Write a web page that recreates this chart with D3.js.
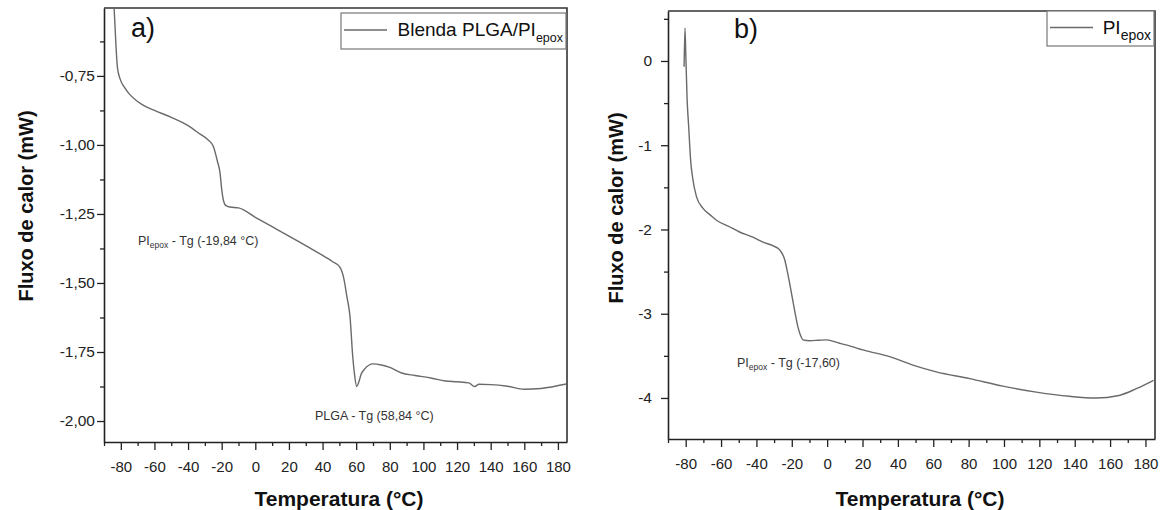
<!DOCTYPE html>
<html>
<head>
<meta charset="utf-8">
<script src="https://cdn.jsdelivr.net/npm/d3@7"></script>
<style>
  body { margin: 0; background: #fff; }
  text { font-family: "Liberation Sans", Arial, sans-serif; }
</style>
</head>
<body>
<div class="d3-chart"></div>
<script>
const width = 1173;
const height = 510;

// a) Blenda PLGA/PI_epox
const tempA = [-84.2, -83.6, -82.8, -82, -80.5, -78, -75, -71, -67, -60, -50, -40, -33, -28, -25, -22.5, -21, -20, -19, -17.5, -15, -10, 0, 10, 20, 30, 40, 46, 50, 52.5, 54.5, 56.3, 58, 59, 60.3, 61.5, 63, 65, 70, 75, 80, 87, 95, 105, 113, 120, 127, 130.5, 133, 140, 150, 160, 170, 185];
const fluxA = [-0.48, -0.55, -0.65, -0.72, -0.76, -0.79, -0.815, -0.838, -0.855, -0.875, -0.9, -0.93, -0.96, -0.982, -1.005, -1.06, -1.1, -1.16, -1.2, -1.22, -1.225, -1.228, -1.262, -1.296, -1.33, -1.365, -1.4, -1.423, -1.44, -1.48, -1.55, -1.62, -1.77, -1.83, -1.875, -1.86, -1.83, -1.812, -1.793, -1.797, -1.806, -1.826, -1.835, -1.845, -1.855, -1.858, -1.862, -1.875, -1.867, -1.868, -1.874, -1.885, -1.882, -1.866];

// b) PI_epox
const tempB = [-80.9, -80.4, -79.9, -79.2, -78.3, -77.2, -75.9, -73.9, -70.2, -66, -62.6, -56, -49.5, -42, -36.3, -30, -27, -24, -22.5, -21.2, -19.8, -18.4, -16.5, -15, -13.7, -9.9, -5, -0.5, 7, 14, 20.2, 24, 35.3, 48.5, 61.7, 80.6, 99.4, 118.3, 137, 152, 165, 174.8, 184.6];
const fluxB = [-0.07, 0.39, 0.05, -0.45, -0.78, -1.18, -1.41, -1.61, -1.75, -1.83, -1.89, -1.96, -2.03, -2.09, -2.15, -2.2, -2.24, -2.36, -2.5, -2.64, -2.8, -2.96, -3.16, -3.26, -3.31, -3.32, -3.315, -3.31, -3.35, -3.39, -3.43, -3.45, -3.51, -3.61, -3.69, -3.77, -3.86, -3.93, -3.98, -4.0, -3.97, -3.89, -3.79];

const xTicks = d3.range(-80, 181, 20);
const yTicksA = [-0.75, -1.0, -1.25, -1.5, -1.75, -2.0];
const yTicksB = [0, -1, -2, -3, -4];

// plain hyphen for negatives, comma decimals
const fmtComma = d => d.toFixed(2).replace(".", ",");
const fmtInt = d => String(d);

const svg = d3.select(".d3-chart")
  .append("svg")
  .attr("width", width)
  .attr("height", height);

const panels = [
  {
    id: "a", temp: tempA, flux: fluxA,
    x0: 104, x1: 567, y0: 8, y1: 442,
    yDomain: [-2.076, -0.504], yTicks: yTicksA, yMinorStep: 0.125, yFmt: fmtComma, yLabelGap: 9,
    label: {text: "a)", x: 131, y: 37},
    yTitle: {x: 33, y: 206}, xTitle: {x: 339, y: 506},
    legend: {x: 341, y: 13, w: 225, h: 36, main: "Blenda PLGA/PI", sub: "epox", mainSize: 19, subSize: 12.5},
    notes: [
      {x: 138, y: 245, main: "PI", sub: "epox", rest: " - Tg (-19,84 °C)"},
      {x: 315, y: 420, main: "PLGA - Tg (58,84 °C)"}
    ]
  },
  {
    id: "b", temp: tempB, flux: fluxB,
    x0: 668, x1: 1155, y0: 11, y1: 439,
    yDomain: [-4.487, 0.593], yTicks: yTicksB, yMinorStep: 0.5, yFmt: fmtInt, yLabelGap: 16,
    label: {text: "b)", x: 734, y: 38},
    yTitle: {x: 623, y: 208}, xTitle: {x: 920, y: 506},
    legend: {x: 1047, y: 11, w: 107, h: 35, main: "PI", sub: "epox", mainSize: 19, subSize: 14},
    notes: [
      {x: 737, y: 367, main: "PI", sub: "epox", rest: " - Tg (-17,60)"}
    ]
  }
];

const lineColor = "#6a6a6a";
const axisColor = "#222";

panels.forEach(p => {
  const x = d3.scaleLinear().domain([-90, 185.4]).range([p.x0, p.x1]);
  const y = d3.scaleLinear().domain(p.yDomain).range([p.y1, p.y0]);
  const g = svg.append("g");

  g.append("clipPath").attr("id", `clip-${p.id}`)
    .append("rect")
    .attr("x", p.x0).attr("y", p.y0)
    .attr("width", p.x1 - p.x0).attr("height", p.y1 - p.y0);

  // x axis (major + minor)
  const xMinor = d3.range(-90, 186, 10).filter(v => v % 20 !== 0);
  g.append("g")
    .attr("transform", `translate(0,${p.y1})`)
    .call(d3.axisBottom(x).tickValues(xMinor).tickSize(4).tickFormat(""))
    .call(s => s.select(".domain").remove());
  const xAxis = g.append("g")
    .attr("transform", `translate(0,${p.y1})`)
    .call(d3.axisBottom(x).tickValues(xTicks).tickSize(8).tickPadding(11).tickSizeOuter(0).tickFormat(fmtInt));
  xAxis.selectAll("text").attr("font-size", 15).attr("fill", "#222");

  // y axis
  const ext = d3.extent(p.yDomain);
  const yMinor = [];
  for (let v = Math.ceil(ext[0] / p.yMinorStep) * p.yMinorStep; v <= ext[1]; v += p.yMinorStep) {
    if (!p.yTicks.some(t => Math.abs(t - v) < 1e-6)) yMinor.push(v);
  }
  g.append("g")
    .attr("transform", `translate(${p.x0},0)`)
    .call(d3.axisLeft(y).tickValues(yMinor).tickSize(4).tickFormat(""))
    .call(s => s.select(".domain").remove());
  const yAxis = g.append("g")
    .attr("transform", `translate(${p.x0},0)`)
    .call(d3.axisLeft(y).tickValues(p.yTicks).tickSize(7).tickPadding(p.yLabelGap - 7).tickSizeOuter(0).tickFormat(p.yFmt));
  yAxis.selectAll("text").attr("font-size", 15.5).attr("fill", "#222");

  g.selectAll(".domain").attr("stroke", axisColor).attr("stroke-width", 1.6);
  g.selectAll(".tick line").attr("stroke", axisColor).attr("stroke-width", 1.3);

  // frame top/right
  g.append("path")
    .attr("d", `M${p.x0},${p.y0}H${p.x1}V${p.y1}`)
    .attr("fill", "none")
    .attr("stroke", "#333")
    .attr("stroke-width", 1.6);

  // curve
  const data = p.temp.map((t, i) => [t, p.flux[i]]);
  g.append("path")
    .datum(data)
    .attr("clip-path", `url(#clip-${p.id})`)
    .attr("fill", "none")
    .attr("stroke", lineColor)
    .attr("stroke-width", 1.4)
    .attr("d", d3.line().x(d => x(d[0])).y(d => y(d[1])).curve(d3.curveMonotoneX));

  // panel label
  g.append("text")
    .attr("x", p.label.x).attr("y", p.label.y)
    .attr("font-size", 27)
    .attr("fill", "#111")
    .text(p.label.text);

  // legend
  const L = p.legend;
  g.append("rect")
    .attr("x", L.x).attr("y", L.y).attr("width", L.w).attr("height", L.h)
    .attr("fill", "#fff").attr("stroke", "#777").attr("stroke-width", 1.2);
  g.append("line")
    .attr("x1", L.x + 3).attr("x2", L.x + 46)
    .attr("y1", L.y + L.h / 2 - 1).attr("y2", L.y + L.h / 2 - 1)
    .attr("stroke", lineColor).attr("stroke-width", 1.3);
  const lt = g.append("text")
    .attr("x", L.x + L.w - 3).attr("y", L.y + 23)
    .attr("text-anchor", "end")
    .attr("font-size", L.mainSize)
    .attr("fill", "#111");
  lt.append("tspan").text(L.main);
  lt.append("tspan").attr("dy", 6).attr("font-size", L.subSize).text(L.sub);

  // annotations
  p.notes.forEach(n => {
    const t = g.append("text")
      .attr("x", n.x).attr("y", n.y)
      .attr("font-size", 12.5)
      .attr("fill", "#333");
    t.append("tspan").text(n.main);
    if (n.sub) {
      t.append("tspan").attr("dy", 3).attr("font-size", 8.5).text(n.sub);
      t.append("tspan").attr("dy", -3).text(n.rest);
    }
  });

  // axis titles
  g.append("text")
    .attr("transform", `translate(${p.yTitle.x},${p.yTitle.y}) rotate(-90)`)
    .attr("text-anchor", "middle")
    .attr("font-size", 20)
    .attr("font-weight", "bold")
    .attr("fill", "#111")
    .text("Fluxo de calor (mW)");
  g.append("text")
    .attr("x", p.xTitle.x).attr("y", p.xTitle.y)
    .attr("text-anchor", "middle")
    .attr("font-size", 21)
    .attr("font-weight", "bold")
    .attr("fill", "#111")
    .text("Temperatura (°C)");
});
</script>
</body>
</html>
